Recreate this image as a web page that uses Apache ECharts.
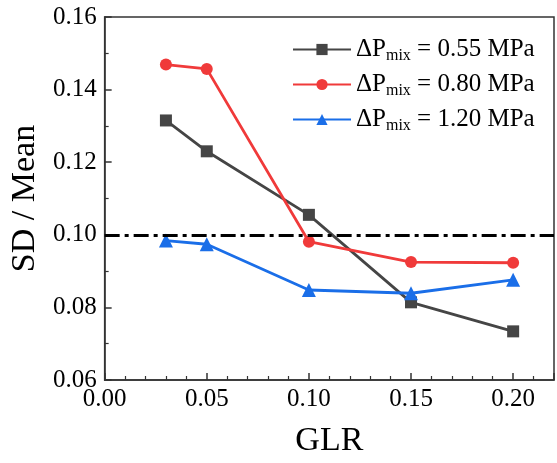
<!DOCTYPE html>
<html><head><meta charset="utf-8">
<script src="https://cdn.jsdelivr.net/npm/echarts@6/dist/echarts.min.js"></script>
<style>html,body{margin:0;padding:0;background:#fff}#c{width:557px;height:463px}</style>
</head><body><div id="c"></div>
<script>
const glr = [0.03, 0.05, 0.10, 0.15, 0.20];
const p055 = [0.1315, 0.1230, 0.1055, 0.0814, 0.0734];
const p080 = [0.1469, 0.1457, 0.0981, 0.0925, 0.0923];
const p120 = [0.0984, 0.0974, 0.0848, 0.0839, 0.0876];
const seriesNames = ['0.55', '0.80', '1.20'];
const refLine = 0.10;

const F = 'Liberation Serif, Times New Roman, serif';
const colors = ['#454545', '#f03a3a', '#1a6ee8'];
const symbols = ['rect', 'circle', 'triangle'];
const datas = [p055, p080, p120];

const series = datas.map((d, i) => ({
  name: seriesNames[i],
  type: 'line',
  data: d.map((v, j) => [glr[j], v]),
  symbol: symbols[i],
  symbolSize: i === 2 ? 14 : 12,
  lineStyle: { color: colors[i], width: 2.8 },
  itemStyle: { color: colors[i] },
  z: 3
}));
series[0].markLine = {
  silent: true, symbol: 'none', label: { show: false },
  lineStyle: { color: '#000', width: 3.2, type: [15, 5, 4, 5] },
  data: [{ yAxis: refLine }]
};

const chart = echarts.init(document.getElementById('c'));
chart.setOption({
  animation: false,
  grid: { left: 102, top: 17, right: 3, bottom: 83, show: true, borderColor: '#333', borderWidth: 1.5 },
  legend: {
    orient: 'vertical', left: 287, top: 32, itemWidth: 58, itemHeight: 14, itemGap: 8,
    data: seriesNames,
    formatter: n => '{a|ΔP}{s|mix}{a| = ' + n + ' MPa}',
    textStyle: {
      fontFamily: F, color: '#000',
      rich: {
        a: { fontFamily: F, fontSize: 25, color: '#000' },
        s: { fontFamily: F, fontSize: 16, color: '#000', padding: [13, 0, 0, 0] }
      }
    }
  },
  xAxis: {
    type: 'value', min: 0, max: 0.22, interval: 0.05,
    name: 'GLR', nameLocation: 'middle', nameGap: 44,
    nameTextStyle: { fontFamily: F, fontSize: 34, color: '#000' },
    axisLine: { lineStyle: { color: '#333', width: 1.5 } },
    axisTick: { inside: true, length: 7, lineStyle: { color: '#333', width: 1.5 } },
    minorTick: { show: true, splitNumber: 5, length: 4, lineStyle: { color: '#333', width: 1.2 } },
    axisLabel: { fontFamily: F, fontSize: 25, color: '#000', margin: 7, showMaxLabel: false, formatter: v => v.toFixed(2) },
    splitLine: { show: false }
  },
  yAxis: {
    type: 'value', min: 0.06, max: 0.16, interval: 0.02,
    name: 'SD / Mean', nameLocation: 'middle', nameGap: 60,
    nameTextStyle: { fontFamily: F, fontSize: 34, color: '#000' },
    axisLine: { lineStyle: { color: '#333', width: 1.5 } },
    axisTick: { inside: true, length: 7, lineStyle: { color: '#333', width: 1.5 } },
    minorTick: { show: true, splitNumber: 2, length: 4, lineStyle: { color: '#333', width: 1.2 } },
    axisLabel: { fontFamily: F, fontSize: 25, color: '#000', margin: 8, formatter: v => v.toFixed(2) },
    splitLine: { show: false }
  },
  series: series
});
</script></body></html>
